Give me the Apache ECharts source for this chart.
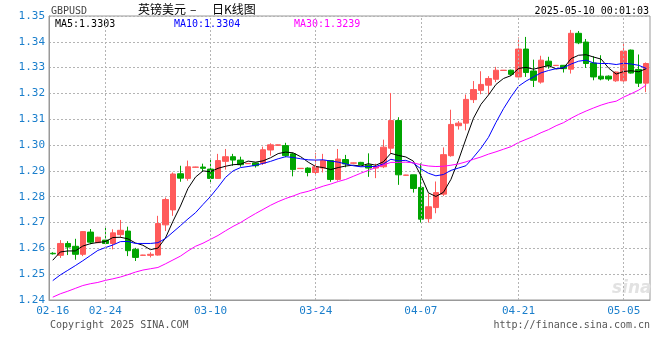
<!DOCTYPE html>
<html><head><meta charset="utf-8">
<script src="https://cdn.jsdelivr.net/npm/echarts@6/dist/echarts.min.js"></script>
<style>html,body{margin:0;padding:0;background:#fff}#c{width:660px;height:360px}</style>
</head><body><div id="c"></div>
<script>
const dates = ['02-16','02-17','02-18','02-19','02-20','02-21','02-22','02-24','02-25','02-26','02-27','02-28',
'03-01','03-02','03-03','03-04','03-05','03-06','03-07','03-08','03-09','03-10','03-11','03-12','03-13','03-14','03-15','03-16','03-17','03-18','03-19','03-20','03-21','03-22','03-23','03-24','03-25','03-26','03-27','03-28','03-29','03-30','03-31',
'04-01','04-02','04-03','04-04','04-05','04-06','04-07','04-08','04-09','04-10','04-11','04-12','04-13','04-14','04-15','04-16','04-17','04-19','04-20','04-21','04-22','04-23','04-24','04-25','04-26','04-27','04-28','04-29','04-30',
'05-01','05-02','05-03','05-04','05-05','05-06','05-07','05-08'];
const tickDates = ['02-16','02-24','03-10','03-24','04-07','04-21','05-05'];
const opens = [1.2581,1.2573,1.2619,1.2608,1.2577,1.2663,1.2622,1.2632,1.2619,1.2653,1.2667,1.2596,1.2573,1.2573,1.2574,1.2691,1.2749,1.2889,1.2871,1.2914,
1.2915,1.2907,1.2871,1.2937,1.2955,1.2942,1.2928,1.2931,1.2929,1.2981,1.2999,1.2998,1.2966,1.2909,1.2911,1.2894,1.2911,1.2940,1.2867,1.2944,
1.2930,1.2933,1.2923,1.2911,1.2916,1.2988,1.3095,1.2883,1.2885,1.2836,1.2715,1.2758,1.2810,1.2959,1.3075,1.3085,1.3176,1.3212,1.3232,1.3255,
1.3289,1.3290,1.3264,1.3372,1.3287,1.3244,1.3325,1.3308,1.3309,1.3294,1.3433,1.3399,1.3318,1.3267,1.3267,1.3249,1.3249,1.3368,1.3293,1.3240];
const closes = [1.2579,1.2619,1.2605,1.2577,1.2665,1.2624,1.2643,1.2619,1.2660,1.2670,1.2591,1.2565,1.2574,1.2577,1.2696,1.2789,1.2888,1.2872,1.2916,1.2915,
1.2910,1.2871,1.2940,1.2955,1.2942,1.2924,1.2929,1.2920,1.2982,1.3001,1.3001,1.2959,1.2905,1.2910,1.2894,1.2916,1.2940,1.2867,1.2946,1.2927,
1.2931,1.2924,1.2911,1.2916,1.2992,1.3095,1.2885,1.2884,1.2832,1.2713,1.2761,1.2816,1.2963,1.3080,1.3085,1.3177,1.3215,1.3235,1.3258,1.3290,
1.3290,1.3274,1.3372,1.3281,1.3251,1.3329,1.3307,1.3309,1.3296,1.3433,1.3396,1.3316,1.3264,1.3256,1.3256,1.3283,1.3364,1.3279,1.3240,1.3316];
const lows = [1.2576,1.2563,1.2574,1.2556,1.2570,1.2616,1.2620,1.2616,1.2596,1.2641,1.2570,1.2551,1.2571,1.2565,1.2572,1.2667,1.2726,1.2858,1.2862,1.2913,
1.2897,1.2855,1.2870,1.2905,1.2920,1.2916,1.2927,1.2913,1.2923,1.2959,1.2998,1.2953,1.2879,1.2908,1.2879,1.2888,1.2894,1.2858,1.2862,1.2914,
1.2929,1.2922,1.2877,1.2872,1.2911,1.2966,1.2846,1.2882,1.2816,1.2700,1.2700,1.2736,1.2803,1.2955,1.3060,1.3057,1.3163,1.3197,1.3197,1.3244,
1.3288,1.3268,1.3262,1.3264,1.3225,1.3238,1.3296,1.3307,1.3281,1.3277,1.3391,1.3299,1.3251,1.3251,1.3249,1.3245,1.3245,1.3277,1.3225,1.3205];
const highs = [1.2585,1.2632,1.2628,1.2637,1.2667,1.2675,1.2645,1.2687,1.2674,1.2710,1.2684,1.2602,1.2575,1.2585,1.2726,1.2797,1.2894,1.2920,1.2940,1.2916,
1.2928,1.2944,1.2966,1.2985,1.2966,1.2955,1.2930,1.2933,1.2994,1.3007,1.3002,1.3009,1.2970,1.2911,1.2914,1.2970,1.2966,1.2942,1.2985,1.2962,
1.2932,1.2935,1.2968,1.2928,1.3021,1.3202,1.3108,1.2885,1.2885,1.2929,1.2812,1.2859,1.2991,1.3137,1.3093,1.3196,1.3248,1.3286,1.3267,1.3303,
1.3291,1.3292,1.3417,1.3419,1.3331,1.3346,1.3342,1.3310,1.3309,1.3446,1.3442,1.3411,1.3344,1.3348,1.3270,1.3285,1.3400,1.3370,1.3351,1.3320];
const ma5 = [1.2554,1.2586,1.2590,1.2590,1.2609,1.2618,1.2623,1.2626,1.2642,1.2643,1.2637,1.2621,1.2612,1.2595,1.2601,1.2640,1.2705,1.2764,1.2832,1.2876,
1.2900,1.2897,1.2910,1.2918,1.2924,1.2926,1.2938,1.2934,1.2939,1.2951,1.2967,1.2973,1.2970,1.2955,1.2934,1.2917,1.2913,1.2905,1.2913,1.2919,
1.2922,1.2919,1.2928,1.2922,1.2935,1.2968,1.2960,1.2954,1.2938,1.2882,1.2815,1.2801,1.2817,1.2867,1.2941,1.3024,1.3104,1.3158,1.3194,1.3235,
1.3258,1.3269,1.3297,1.3301,1.3294,1.3301,1.3308,1.3295,1.3298,1.3335,1.3348,1.3350,1.3341,1.3333,1.3298,1.3275,1.3285,1.3288,1.3284,1.3296];
const ma10 = [1.2475,1.2497,1.2515,1.2533,1.2552,1.2572,1.2592,1.2603,1.2613,1.2626,1.2627,1.2619,1.2619,1.2619,1.2622,1.2638,1.2663,1.2688,1.2714,1.2738,
1.2770,1.2801,1.2837,1.2875,1.2900,1.2913,1.2917,1.2922,1.2929,1.2937,1.2947,1.2955,1.2952,1.2947,1.2943,1.2942,1.2943,1.2938,1.2934,1.2927,
1.2920,1.2916,1.2917,1.2917,1.2927,1.2945,1.2939,1.2941,1.2930,1.2908,1.2891,1.2881,1.2886,1.2902,1.2911,1.2920,1.2953,1.2988,1.3030,1.3088,
1.3141,1.3187,1.3228,1.3248,1.3264,1.3280,1.3289,1.3296,1.3300,1.3314,1.3325,1.3329,1.3318,1.3316,1.3316,1.3312,1.3317,1.3314,1.3309,1.3297];
const ma30 = [1.2411,1.2424,1.2434,1.2445,1.2456,1.2463,1.2468,1.2476,1.2482,1.2489,1.2498,1.2508,1.2516,1.2521,1.2526,1.2540,1.2555,1.2570,1.2590,1.2608,
1.2620,1.2635,1.2650,1.2668,1.2685,1.2700,1.2718,1.2735,1.2751,1.2767,1.2781,1.2793,1.2803,1.2814,1.2821,1.2831,1.2841,1.2849,1.2859,1.2867,
1.2879,1.2891,1.2902,1.2913,1.2923,1.2933,1.2933,1.2934,1.2931,1.2924,1.2919,1.2917,1.2918,1.2922,1.2927,1.2935,1.2945,1.2954,1.2965,1.2974,
1.2984,1.2994,1.3010,1.3022,1.3034,1.3048,1.3060,1.3075,1.3087,1.3104,1.3119,1.3132,1.3144,1.3155,1.3164,1.3170,1.3186,1.3199,1.3213,1.3233];
const yTicks = {min: 1.24, max: 1.35, step: 0.01};
const legendTexts = ['MA5:1.3303', 'MA10:1.3304', 'MA30:1.3239'];

const UP = '#ff5a5a', DOWN = '#00a400';
const MONO = '"DejaVu Sans Mono","Liberation Mono",monospace';
const CJK = '"Noto Sans CJK SC"';
const AXC = '#1b7fcc';
const kData = dates.map((d, i) => [opens[i], closes[i], lows[i], highs[i]]);

const chart = echarts.init(document.getElementById('c'), null, {renderer: 'canvas'});
chart.setOption({
  animation: false,
  backgroundColor: '#fff',
  grid: {left: 49, top: 16, width: 601, height: 284, show: true, borderColor: '#999', borderWidth: 1},
  xAxis: {
    type: 'category', data: dates, boundaryGap: true,
    axisLine: {show: true, lineStyle: {color: '#999'}},
    axisTick: {show: false},
    splitLine: {show: false},
    axisLabel: {
      color: AXC, fontFamily: MONO, fontSize: 11, margin: 6,
      interval: (idx, val) => tickDates.includes(val)
    }
  },
  yAxis: {
    type: 'value', min: yTicks.min, max: yTicks.max, interval: yTicks.step, scale: true,
    axisLine: {show: true, lineStyle: {color: '#999'}},
    axisTick: {show: false},
    axisLabel: {color: AXC, fontFamily: MONO, fontSize: 11, margin: 4, formatter: v => v.toFixed(2)},
    splitLine: {show: true, lineStyle: {color: '#b4b4b4', type: [2, 2], width: 1}}
  },
  series: [
    {
      type: 'candlestick', data: kData, barWidth: 6,
      itemStyle: {color: UP, color0: DOWN, borderColor: UP, borderColor0: DOWN, borderWidth: 1},
      markLine: {
        silent: true, symbol: 'none', label: {show: false},
        lineStyle: {color: '#b4b4b4', type: [2, 2], width: 1},
        data: tickDates.slice(1).map(d => ({xAxis: d}))
      }
    },
    {type: 'line', data: ma5, showSymbol: false, lineStyle: {color: '#000', width: 1}, z: 3},
    {type: 'line', data: ma10, showSymbol: false, lineStyle: {color: '#0000ff', width: 1}, z: 3},
    {type: 'line', data: ma30, showSymbol: false, lineStyle: {color: '#ff00ff', width: 1}, z: 3}
  ],
  graphic: [
    {type: 'text', left: 51, top: 6, style: {text: 'GBPUSD', font: '10px ' + MONO, fill: '#444'}},
    {type: 'text', left: 138, top: 3, style: {text: '英镑美元', font: '12px ' + CJK, fill: '#000'}},
    {type: 'text', left: 190, top: 3, style: {text: '–', font: '12px ' + CJK, fill: '#000'}},
    {type: 'text', left: 212, top: 3, style: {text: '日K线图', font: '12px ' + CJK, fill: '#000'}},
    {type: 'text', right: 11, top: 6, style: {text: '2025-05-10 00:01:03', font: '10px ' + MONO, fill: '#000'}},
    {type: 'text', left: 55, top: 19, style: {text: legendTexts[0], font: '10px ' + MONO, fill: '#000'}},
    {type: 'text', left: 174, top: 19, style: {text: legendTexts[1], font: '10px ' + MONO, fill: '#0000ff'}},
    {type: 'text', left: 294, top: 19, style: {text: legendTexts[2], font: '10px ' + MONO, fill: '#ff00ff'}},
    {type: 'text', left: 612, top: 280, style: {text: 'sina', font: 'italic bold 17px "DejaVu Sans"', fill: '#e2e2e2'}},
    {type: 'text', left: 50, top: 320, style: {text: 'Copyright 2025 SINA.COM', font: '10px ' + MONO, fill: '#555'}},
    {type: 'text', right: 10, top: 320, style: {text: 'http://finance.sina.com.cn', font: '10px ' + MONO, fill: '#555'}}
  ]
});
</script></body></html>
